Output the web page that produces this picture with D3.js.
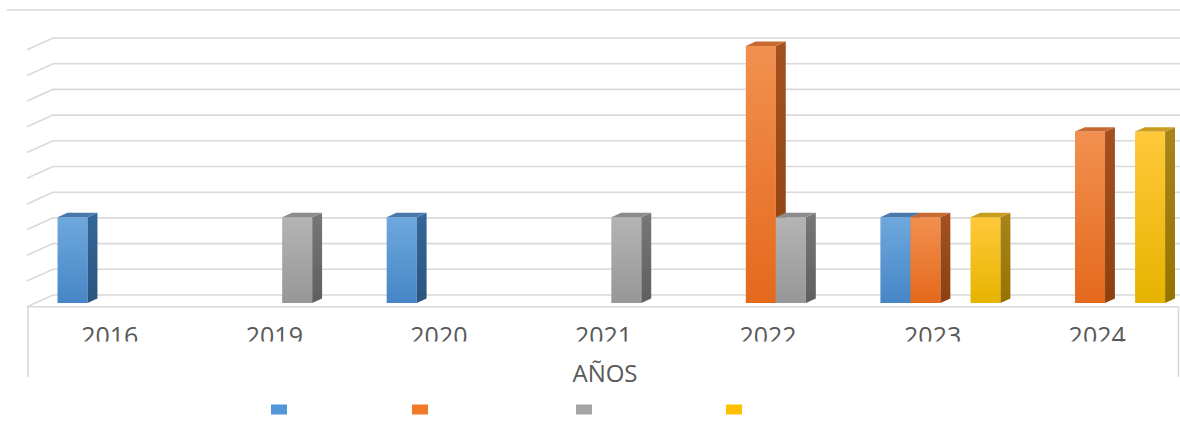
<!DOCTYPE html>
<html>
<head>
<meta charset="utf-8">
<script src="https://cdn.jsdelivr.net/npm/d3@7"></script>
<style>
  html, body { margin: 0; padding: 0; background: #ffffff; }
  svg { display: block; }
</style>
</head>
<body>
<svg id="chart" width="1180" height="434"></svg>
<script>
// ---------- DATA ----------
const categories = ["2016", "2019", "2020", "2021", "2022", "2023", "2024"];
const seriesKeys = ["s1", "s2", "s3", "s4"];
const blueValues   = [1, null, 1, null, null, 1, null];
const orangeValues = [null, null, null, null, 3, 1, 2];
const grayValues   = [null, 1, null, 1, 1, null, null];
const yellowValues = [null, null, null, null, null, 1, 2];
const gridValues = [0, 0.3, 0.6, 0.9, 1.2, 1.5, 1.8, 2.1, 2.4, 2.7, 3.0];
const axisTitle = "AÑOS";

// ---------- STYLE / LAYOUT ----------
const seriesStyle = {
  s1: { top: "#4a78ad", frontA: "#6ea8de", frontB: "#4686c6", sideA: "#34679a", sideB: "#2a5580", legend: "#5096d8" },
  s2: { top: "#c86a30", frontA: "#f2904f", frontB: "#e4691c", sideA: "#a3511f", sideB: "#8e4010", legend: "#f07a28" },
  s3: { top: "#8c8c8c", frontA: "#b4b4b4", frontB: "#979797", sideA: "#777777", sideB: "#5f5f5f", legend: "#a5a5a5" },
  s4: { top: "#c99d1e", frontA: "#ffc93a", frontB: "#e7b300", sideA: "#a8841a", sideB: "#967300", legend: "#ffc000" }
};
const valuesBySeries = { s1: blueValues, s2: orangeValues, s3: grayValues, s4: yellowValues };

const svg = d3.select("#chart");
const W = 1180;
const frontLeft = 27, frontRight = 1179, floorY = 306.7;
const DX = 26, DY = -11.7;      // depth offset of the floor (front -> back)
const t0 = 0.32, t1 = 0.70;     // bar depth span
const gridColor = "#d9d9d9";

const x = d3.scaleBand().domain(categories).range([frontLeft, frontRight])
  .paddingInner(0.27).paddingOuter(0.135);
const xs = d3.scaleBand().domain(seriesKeys).range([0, x.bandwidth()]);
const y = d3.scaleLinear().domain([0, 3]).range([floorY, floorY - 257]);

function P(px, v, t) { return [px + DX * t, y(v) + DY * t]; }
const line = d3.line();

// gradients
const defs = svg.append("defs");
seriesKeys.forEach(k => {
  const s = seriesStyle[k];
  const gf = defs.append("linearGradient").attr("id", "front-" + k)
    .attr("x1", 0).attr("y1", 0).attr("x2", 0).attr("y2", 1);
  gf.append("stop").attr("offset", "0%").attr("stop-color", s.frontA);
  gf.append("stop").attr("offset", "100%").attr("stop-color", s.frontB);
  const gs = defs.append("linearGradient").attr("id", "side-" + k)
    .attr("x1", 0).attr("y1", 0).attr("x2", 0).attr("y2", 1);
  gs.append("stop").attr("offset", "0%").attr("stop-color", s.sideA);
  gs.append("stop").attr("offset", "100%").attr("stop-color", s.sideB);
});
defs.append("clipPath").attr("id", "labelClip")
  .append("rect").attr("x", 0).attr("y", 308).attr("width", W).attr("height", 33.5);

// top border line
svg.append("line").attr("x1", 7).attr("x2", W).attr("y1", 10).attr("y2", 10)
  .attr("stroke", gridColor).attr("stroke-width", 1.6);

// gridlines: back wall + left side wall
const grid = svg.append("g");
gridValues.forEach(v => {
  const a = P(frontLeft, v, 0), b = P(frontLeft, v, 1), c = P(W + 40, v, 1);
  grid.append("path").attr("d", line([a, b, c]))
    .attr("fill", "none").attr("stroke", gridColor).attr("stroke-width", 1.6);
});

// floor front edge and category box
svg.append("path").attr("d", line([[frontLeft, floorY], [frontRight, floorY]]))
  .attr("stroke", gridColor).attr("stroke-width", 1.6).attr("fill", "none");
svg.append("line").attr("x1", 28).attr("x2", 28).attr("y1", floorY).attr("y2", 377)
  .attr("stroke", gridColor).attr("stroke-width", 1.6);
svg.append("line").attr("x1", frontRight - 0.5).attr("x2", frontRight - 0.5).attr("y1", floorY).attr("y2", 377)
  .attr("stroke", gridColor).attr("stroke-width", 1.6);

// bars (left to right)
const bars = [];
categories.forEach((c, i) => {
  seriesKeys.forEach(k => {
    const v = valuesBySeries[k][i];
    if (v != null && v > 0) bars.push({ c, k, v });
  });
});
const gBars = svg.append("g");
bars.forEach(d => {
  const x0 = x(d.c) + xs(d.k), x1 = x0 + xs.bandwidth();
  const s = seriesStyle[d.k];
  const g = gBars.append("g");
  g.append("path").attr("d", line([P(x0, 0, t0), P(x1, 0, t0), P(x1, d.v, t0), P(x0, d.v, t0)]) + "Z")
    .attr("fill", `url(#front-${d.k})`);
  g.append("path").attr("d", line([P(x1, 0, t0), P(x1, 0, t1), P(x1, d.v, t1), P(x1, d.v, t0)]) + "Z")
    .attr("fill", `url(#side-${d.k})`);
  g.append("path").attr("d", line([P(x0, d.v, t0), P(x1, d.v, t0), P(x1, d.v, t1), P(x0, d.v, t1)]) + "Z")
    .attr("fill", s.top);
});

// category labels (clipped like in the reference)
svg.append("g").attr("clip-path", "url(#labelClip)")
  .selectAll("text").data(categories).join("text")
  .attr("x", d => x(d) + x.bandwidth() / 2 + 0.5)
  .attr("y", 344.5)
  .attr("text-anchor", "middle")
  .attr("font-family", "'Open Sans', sans-serif")
  .attr("font-size", 25)
  .attr("fill", "#595959")
  .text(d => d);

// axis title
svg.append("text").attr("x", (frontLeft + frontRight) / 2 + 2).attr("y", 381.5)
  .attr("text-anchor", "middle")
  .attr("font-family", "'Open Sans', sans-serif")
  .attr("font-size", 24)
  .attr("fill", "#595959")
  .text(axisTitle);

// legend (squares only; the reference shows no series names)
const legendX = d3.scaleOrdinal().domain(seriesKeys).range([271, 412, 576, 726]);
svg.append("g").selectAll("rect").data(seriesKeys).join("rect")
  .attr("x", d => legendX(d)).attr("y", 404.5)
  .attr("width", 16).attr("height", 10)
  .attr("fill", d => seriesStyle[d].legend);
</script>
</body>
</html>
